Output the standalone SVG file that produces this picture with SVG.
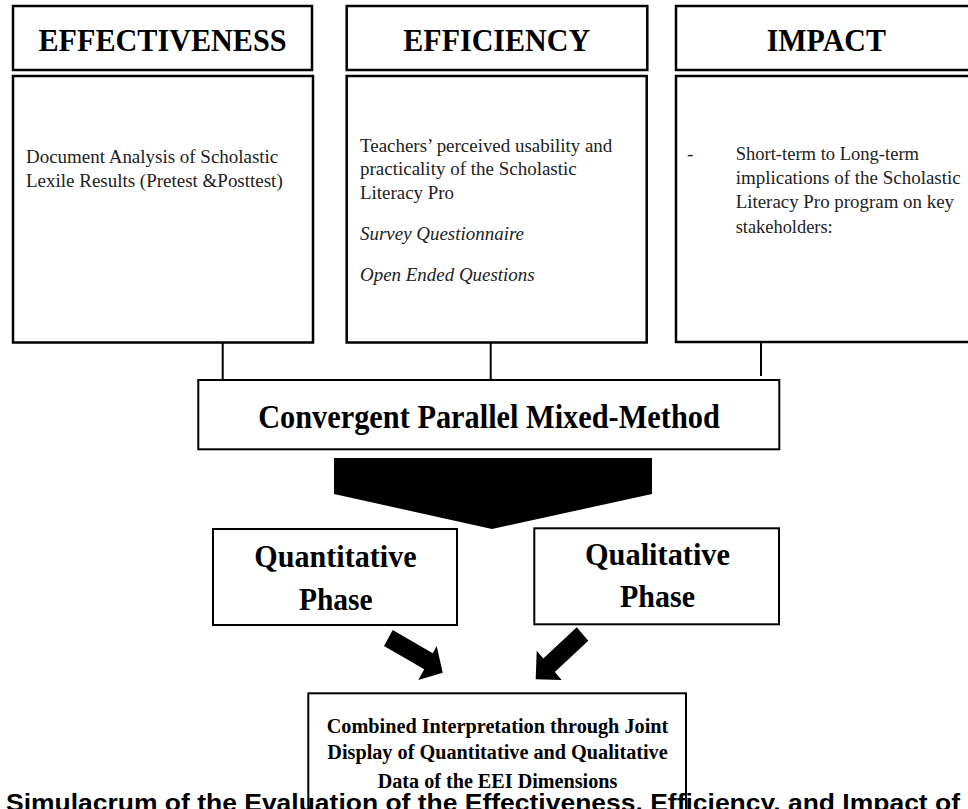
<svg xmlns="http://www.w3.org/2000/svg" width="968" height="809" viewBox="0 0 968 809">
<style>
.box{fill:#fff;stroke:#000;stroke-width:2.5}
.box2{fill:#fff;stroke:#000;stroke-width:2}
.hd{font-family:"Liberation Serif","Times New Roman",serif;font-weight:bold;font-size:32px;fill:#000}
.big{font-family:"Liberation Serif","Times New Roman",serif;font-weight:bold;font-size:34px;fill:#000}
.ph{font-family:"Liberation Serif","Times New Roman",serif;font-weight:bold;font-size:31px;fill:#000}
.cb{font-family:"Liberation Serif","Times New Roman",serif;font-weight:bold;font-size:20px;fill:#000}
.bt{font-family:"Liberation Serif","Times New Roman",serif;font-size:19.5px;fill:#222}
.it{font-style:italic}
.cap{font-family:"Liberation Sans",Arial,sans-serif;font-weight:bold;font-size:24px;fill:#000}
.ln{stroke:#000;stroke-width:2;fill:none}
</style>
<rect width="968" height="809" fill="#fff"/>
<g id="connectors">
<line class="ln" x1="222.7" y1="343" x2="222.7" y2="380"/>
<line class="ln" x1="490.7" y1="343" x2="490.7" y2="380"/>
<line class="ln" x1="761" y1="342" x2="761" y2="376"/>
<polygon id="funnel" points="334,458 652,458 652,494 492,529 334,494" fill="#000"/>
<polygon id="arrow-left" points="392.7,630 432.8,653.2 436.7,646 442.7,672.7 418.3,680 424.2,669.2 384,646" fill="#000"/>
<polygon id="arrow-right" points="576.7,627.3 543.3,658.5 536.7,650.7 535.7,679.3 561.7,680 554.8,671.9 588.3,640.7" fill="#000"/>
</g>
<g id="effectiveness-header">
<rect class="box" x="13" y="6" width="299" height="64"/>
<text class="hd" x="162.5" y="50.7" text-anchor="middle" textLength="248" lengthAdjust="spacingAndGlyphs">EFFECTIVENESS</text>
</g>
<g id="efficiency-header">
<rect class="box" x="346.7" y="6" width="300.6" height="64"/>
<text class="hd" x="496.7" y="50.7" text-anchor="middle" textLength="186.7" lengthAdjust="spacingAndGlyphs">EFFICIENCY</text>
</g>
<g id="impact-header">
<rect class="box" x="676" y="6" width="300" height="64"/>
<text class="hd" x="826.3" y="50.7" text-anchor="middle" textLength="119.3" lengthAdjust="spacingAndGlyphs">IMPACT</text>
</g>
<g id="effectiveness-body">
<rect class="box" x="13" y="76" width="300" height="266.5"/>
<text class="bt" x="26" y="163.3" textLength="252.3" lengthAdjust="spacingAndGlyphs">Document Analysis of Scholastic</text>
<text class="bt" x="26" y="186.7" textLength="256.7" lengthAdjust="spacingAndGlyphs">Lexile Results (Pretest &amp;Posttest)</text>
</g>
<g id="efficiency-body">
<rect class="box" x="346.7" y="76" width="300" height="266.5"/>
<text class="bt" x="360" y="151.7" textLength="252.3" lengthAdjust="spacingAndGlyphs">Teachers’ perceived usability and</text>
<text class="bt" x="360" y="175.3" textLength="216.7" lengthAdjust="spacingAndGlyphs">practicality of the Scholastic</text>
<text class="bt" x="360" y="199" textLength="94" lengthAdjust="spacingAndGlyphs">Literacy Pro</text>
<text class="bt it" x="360" y="240" textLength="164" lengthAdjust="spacingAndGlyphs">Survey Questionnaire</text>
<text class="bt it" x="360" y="281" textLength="174.7" lengthAdjust="spacingAndGlyphs">Open Ended Questions</text>
</g>
<g id="impact-body">
<rect class="box" x="676" y="76" width="300" height="266"/>
<text class="bt" x="687" y="160">-</text>
<text class="bt" x="735.7" y="160" textLength="183.3" lengthAdjust="spacingAndGlyphs">Short-term to Long-term</text>
<text class="bt" x="735.7" y="184" textLength="225" lengthAdjust="spacingAndGlyphs">implications of the Scholastic</text>
<text class="bt" x="735.7" y="208.3" textLength="218.3" lengthAdjust="spacingAndGlyphs">Literacy Pro program on key</text>
<text class="bt" x="735.7" y="232.7" textLength="97" lengthAdjust="spacingAndGlyphs">stakeholders:</text>
</g>
<g id="convergent">
<rect class="box2" x="198.3" y="380" width="581" height="69.3"/>
<text class="big" x="489" y="428" text-anchor="middle" textLength="461.7" lengthAdjust="spacingAndGlyphs">Convergent Parallel Mixed-Method</text>
</g>
<g id="quantitative">
<rect class="box2" x="213" y="529" width="244" height="96"/>
<text class="ph" x="335.5" y="567.3" text-anchor="middle" textLength="162.4" lengthAdjust="spacingAndGlyphs">Quantitative</text>
<text class="ph" x="335.8" y="610" text-anchor="middle" textLength="73.7" lengthAdjust="spacingAndGlyphs">Phase</text>
</g>
<g id="qualitative">
<rect class="box2" x="534.3" y="528.3" width="244.7" height="96"/>
<text class="ph" x="657.5" y="565" text-anchor="middle" textLength="145" lengthAdjust="spacingAndGlyphs">Qualitative</text>
<text class="ph" x="657.5" y="606.7" text-anchor="middle" textLength="75" lengthAdjust="spacingAndGlyphs">Phase</text>
</g>
<g id="caption">
<text class="cap" x="6" y="811" textLength="954" lengthAdjust="spacingAndGlyphs">Simulacrum of the Evaluation of the Effectiveness, Efficiency, and Impact of</text>
</g>
<g id="combined">
<rect class="box2" x="308.3" y="693.3" width="377.7" height="140" fill="none" style="fill:none"/>
<text class="cb" x="497.5" y="733.3" text-anchor="middle" textLength="341.6" lengthAdjust="spacingAndGlyphs">Combined Interpretation through Joint</text>
<text class="cb" x="497.5" y="759.3" text-anchor="middle" textLength="340.4" lengthAdjust="spacingAndGlyphs">Display of Quantitative and Qualitative</text>
<text class="cb" x="497.5" y="788" text-anchor="middle" textLength="239.6" lengthAdjust="spacingAndGlyphs">Data of the EEI Dimensions</text>
</g>
</svg>
